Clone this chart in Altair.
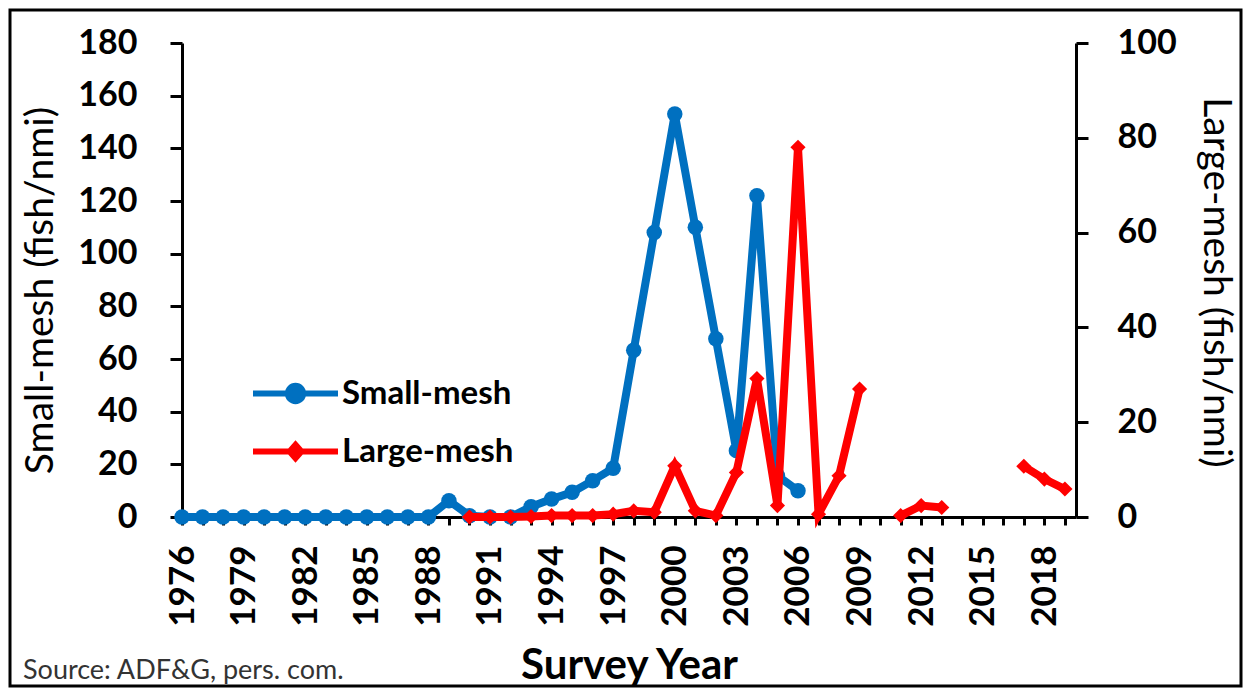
import altair as alt
import pandas as pd

# ---------------- data ----------------
years = list(range(1976, 2020))
small_mesh = [0, 0, 0, 0, 0, 0, 0, 0, 0, 0, 0, 0, 0,            # 1976-1988
              6.2, 0.5, 0, 0, 3.9, 6.8, 9.4, 13.8, 18.5,         # 1989-1997
              63.3, 108, 153, 110, 67.7, 25.2, 122, 15.7, 10]    # 1998-2006
small_mesh += [None] * (len(years) - len(small_mesh))
large_mesh = [None] * 14 + [                                      # 1976-1989
    0, 0, 0, 0.1, 0.3, 0.3, 0.3, 0.6, 1.3, 1.0,                   # 1990-1999
    10.8, 1.3, 0.3, 9.4, 29.2, 2.4, 78, 0.6, 8.7, 27,             # 2000-2009
    None, 0.3, 2.4, 2.0, None, None, None, 10.7, 8.0, 5.9]        # 2010-2019
series_names = ["Small-mesh", "Large-mesh"]
left_ticks = list(range(0, 181, 20))
right_ticks = list(range(0, 101, 20))
source_text = "Source: ADF&G, pers. com."

df = pd.DataFrame({
    "year": years * 2,
    "series": [series_names[0]] * len(years) + [series_names[1]] * len(years),
    "value": small_mesh + large_mesh,
})

BLUE = "#0070C0"
RED = "#FF0000"
FONT = "Lato"

PATH_CIRCLE = ("M-1,0 L1,0 M0.18,0 A0.18,0.18 0 1,1 -0.18,0 "
               "A0.18,0.18 0 1,1 0.18,0 Z")
PATH_DIAMOND = "M-1,0 L1,0 M0,-0.16 L0.14,0 L0,0.16 L-0.14,0 Z"

x_axis = alt.Axis(
    orient="bottom", values=years, format="d",
    labelExpr="(datum.value - 1976) % 3 == 0 ? datum.label : ''",
    labelAngle=-90, labelFont=FONT, labelFontSize=35, labelFontWeight="bold",
    labelColor="black", labelPadding=20, labelOverlap=False, labelFlush=False,
    tickSize=8, tickWidth=3, tickColor="black",
    domainColor="black", domainWidth=3, grid=False,
    title="Survey Year", titleFont=FONT, titleFontSize=42, titleFontWeight="bold",
    titleColor="black", titleY=148, titleBaseline="middle",
)
x_enc = alt.X("year:Q", scale=alt.Scale(domain=[1976, 2019.54], nice=False, zero=False),
              axis=x_axis)

left_axis = alt.Axis(
    orient="left", values=left_ticks, grid=False,
    labelFont=FONT, labelFontSize=34, labelFontWeight="bold", labelColor="black",
    labelPadding=33, tickSize=12, tickWidth=3, tickColor="black",
    domainColor="black", domainWidth=3,
    title="Small-mesh (fish/nmi)", titleFont=FONT, titleFontSize=39,
    titleFontWeight="normal", titleColor="black",
    titleX=-142, titleY=247, titleAngle=-90, titleBaseline="middle", titleAlign="center",
)
right_axis = alt.Axis(
    orient="right", values=right_ticks, grid=False,
    labelFont=FONT, labelFontSize=34, labelFontWeight="bold", labelColor="black",
    labelPadding=29, tickSize=12, tickWidth=3, tickColor="black",
    domainColor="black", domainWidth=3,
    title="Large-mesh (fish/nmi)", titleFont=FONT, titleFontSize=39,
    titleFontWeight="normal", titleColor="black",
    titleX=139, titleY=239, titleAngle=90, titleBaseline="middle", titleAlign="center",
)


def legend(ypos, path, color):
    return alt.Legend(
        orient="none", legendX=68, legendY=ypos, title=None, padding=0,
        symbolType=path, symbolSize=7225, symbolStrokeWidth=6,
        symbolFillColor=color, symbolStrokeColor=color, symbolOpacity=1,
        labelFont=FONT, labelFontSize=33, labelFontWeight="bold",
        labelColor="black", labelOffset=1, labelLimit=400,
    )


blue = alt.Chart(df).transform_filter(
    alt.datum.series == series_names[0]
).mark_line(
    strokeWidth=8, invalid="break-paths-filter-domains",
    point=alt.OverlayMarkDef(shape="circle", size=240, filled=True, opacity=1),
).encode(
    x=x_enc,
    y=alt.Y("value:Q", scale=alt.Scale(domain=[0, 180], nice=False), axis=left_axis),
    color=alt.Color("series:N", scale=alt.Scale(domain=[series_names[0]], range=[BLUE]),
                    legend=legend(305, PATH_CIRCLE, BLUE)),
)

red = alt.Chart(df).transform_filter(
    alt.datum.series == series_names[1]
).mark_line(
    strokeWidth=8, invalid="break-paths-filter-domains",
    point=alt.OverlayMarkDef(shape="diamond", size=230, filled=True, opacity=1),
).encode(
    x=x_enc,
    y=alt.Y("value:Q", scale=alt.Scale(domain=[0, 100], nice=False), axis=right_axis),
    color=alt.Color("series:N", scale=alt.Scale(domain=[series_names[1]], range=[RED]),
                    legend=legend(363, PATH_DIAMOND, RED)),
)

one = pd.DataFrame({"k": [0]})
frame = alt.Chart(one).mark_rect(filled=False, stroke="black", strokeWidth=3).encode(
    x=alt.value(-172), x2=alt.value(1059), y=alt.value(-33), y2=alt.value(643)
)
source = alt.Chart(one).mark_text(
    align="left", baseline="middle", font=FONT, fontSize=27, color="#333333"
).encode(x=alt.value(-159), y=alt.value(628), text=alt.value(source_text))

chart = alt.layer(frame, blue, red, source).resolve_scale(
    y="independent", color="independent"
).properties(
    width=894, height=474,
    padding={"left": 174, "top": 35, "right": 168, "bottom": 171},
    autosize=alt.AutoSizeParams(type="none"),
    background="white",
).configure_view(stroke=None)

chart.save("out.html", embed_options={"renderer": "svg", "actions": False})
